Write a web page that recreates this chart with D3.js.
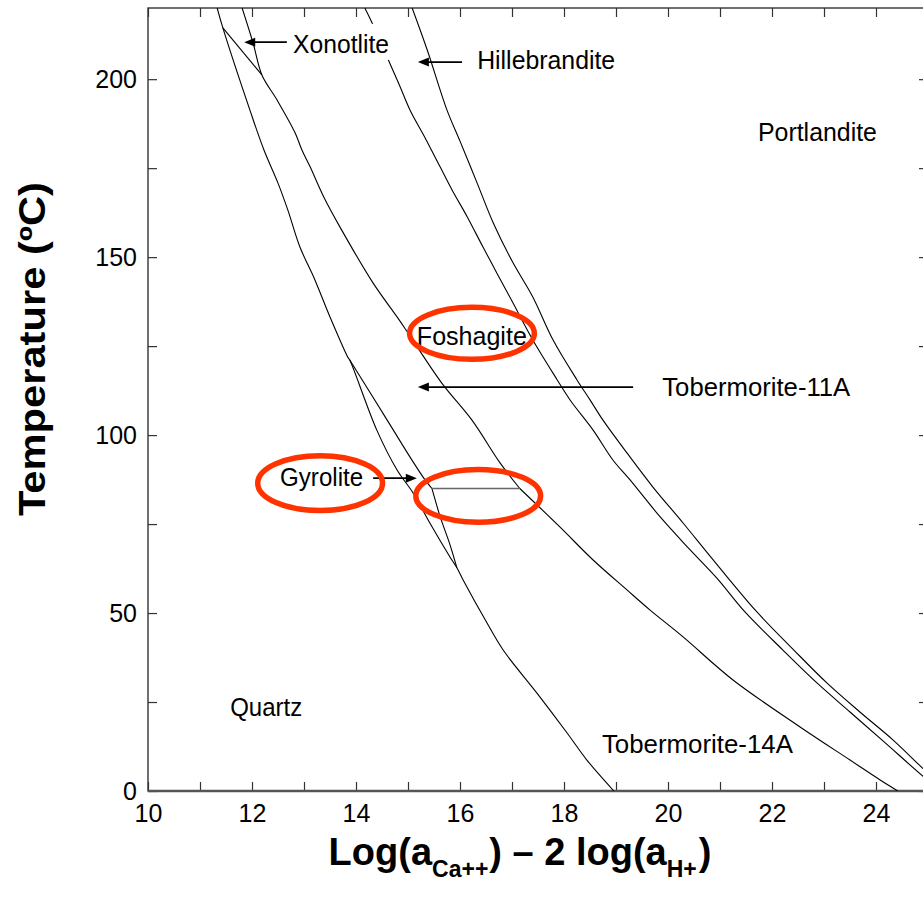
<!DOCTYPE html>
<html><head><meta charset="utf-8">
<script src="https://cdn.jsdelivr.net/npm/d3@7"></script>
<style>
body{margin:0;background:#fff;}
svg{display:block;}
text{font-family:"Liberation Sans",Arial,Helvetica,sans-serif;fill:#000;}
</style>
</head><body>
<svg id="chart" width="923" height="897"></svg>
<script>
// ---------- data (x = Log(aCa++) - 2 log(aH+), T = temperature °C) ----------
const xTickValues = d3.range(10, 26, 1);
const xTickLabels = [10, 12, 14, 16, 18, 20, 22, 24];
const yTickValues = [0, 25, 50, 75, 100, 125, 150, 175, 200];
const yTickLabels = [0, 50, 100, 150, 200];

// Quartz boundary (Quartz | Xonotlite/Tob-11A, Gyrolite, Tob-14A)
const quartzLine = [
  [11.33,220],[11.44,214.4],[11.96,191.3],[12.23,180.1],[12.50,170.8],[12.69,163.2],
  [12.92,152.9],[13.21,143.6],[13.50,133.2],[13.85,121.7],[13.88,121.1],
  [14.40,101.4],[14.79,90.2],[15.10,83.7],[15.42,75.3],[15.81,65.7],[15.94,62.7],
  [16.06,59.3],[16.52,47.2],[16.83,39.6],[17.48,27.5],[18.06,16.3],[18.44,8.7],[18.96,0]
];
// Gyrolite | Tobermorite-11A boundary (above 85 °C)
const gyroliteUpperLine = [[13.88,121.1],[14.60,104.2],[15.04,93.8],[15.29,88.2],[15.46,85.0]];
// Gyrolite | Tobermorite-14A boundary (below 85 °C)
const gyroliteLowerLine = [[15.46,85.0],[15.62,77.0],[15.81,69.1],[15.94,62.7]];
// Xonotlite short boundary
const xonotliteLine = [[11.44,214.4],[12.19,201.2]];
// Tobermorite-14A | Tobermorite-11A (85 °C)
const tob85Line = [[15.46,85.0],[17.15,85.0]];
// Tobermorite-11A | Xonotlite / Foshagite (above 85 °C)
const foshagiteUpperLine = [
  [11.81,220],[12.02,210.2],[12.19,201.2],[12.48,194.2],[12.83,184.9],[12.96,180.1],
  [13.12,175.3],[13.38,166.9],[13.69,158.5],[14.33,142.7],[14.79,133.2],[15.00,128.7],
  [15.65,114.6],[16.23,104.2],[16.77,92.2],[17.15,85.0]
];
// Tobermorite-14A | Foshagite (below 85 °C)
const foshagiteLowerLine = [
  [17.15,85.0],[17.92,74.2],[18.56,64.9],[19.21,56.5],[19.65,50.9],[20.29,43.3],
  [21.25,31.2],[22.54,18.0],[23.50,8.7],[24.08,3.1],[24.42,0]
];
// Foshagite | Hillebrandite
const hillebranditeLine = [
  [14.17,220],[14.31,215.8],[14.65,204.5],[14.85,197.8],[15.04,191.3],[15.33,183.5],
  [15.62,175.3],[15.85,168.8],[16.14,161.3],[16.44,152.9],[16.71,145.5],[17.02,137.1],
  [17.40,126.7],[17.87,115.5],[18.12,109.8],[18.56,101.4],[18.94,93.0],[19.27,87.4],
  [19.85,77.0],[20.39,68.3],[20.94,59.8],[21.48,50.3],[22.21,39.6],[22.87,30.3],
  [23.50,22.2],[24.14,14.0],[24.90,4.2],[25.0,3.1]
];
// Hillebrandite | Portlandite
const portlanditeLine = [
  [15.08,220],[15.37,208.2],[15.75,191.3],[16.00,182.6],[16.33,170.8],[16.64,159.6],
  [17.02,148.4],[17.40,138.8],[17.79,126.7],[18.25,115.5],[18.50,109.9],[18.75,104.2],
  [19.21,95.0],[19.71,85.4],[20.29,75.3],[20.73,67.4],[21.14,60.1],[21.71,50.3],
  [22.42,39.6],[23.06,30.3],[23.69,22.2],[24.33,14.3],[24.89,6.5],[25.0,5.1]
];
const boundaryLines = [quartzLine, gyroliteUpperLine, gyroliteLowerLine, xonotliteLine,
  foshagiteUpperLine, foshagiteLowerLine, hillebranditeLine, portlanditeLine];

// field labels (text, x, T)
const fieldNames = ["Xonotlite","Hillebrandite","Portlandite","Foshagite","Tobermorite-11A","Gyrolite","Quartz","Tobermorite-14A"];
const fieldX = [12.79, 16.33, 21.73, 15.17, 19.89, 12.54, 11.58, 18.73];
const fieldT = [207.4, 202.9, 182.6, 125.3, 111.0, 85.7, 21.1, 10.7];
const fieldLen = [96, 138, 119, 110, 188, 83, 72, 191];

// arrows: [x from, x to, T]
const arrows = [[12.67,11.85,210.4],[16.04,15.19,204.8],[19.33,15.19,113.5],[14.33,15.17,87.9]];
// highlight ellipses: [cx, cy(T), rx (x units), ry (T units)]
const ellipses = [[16.23,128.6,1.20,7.3],[13.31,86.5,1.20,7.7],[16.35,82.9,1.20,7.4]];

// ---------- drawing ----------
const svg = d3.select("#chart");
const x = d3.scaleLinear().domain([10, 25]).range([148, 928]);
const y = d3.scaleLinear().domain([0, 220]).range([791, 8]);
const FONT = '"Liberation Sans", Arial, Helvetica, sans-serif';

svg.append("defs").append("clipPath").attr("id","plotclip")
  .append("rect").attr("x", x(10)).attr("y", y(220)).attr("width", x(25)-x(10)).attr("height", y(0)-y(220));

// axes
const gx = svg.append("g").attr("transform", `translate(0,${y(0)})`)
  .call(d3.axisBottom(x).tickValues(xTickValues).tickSizeInner(-9).tickSizeOuter(0).tickPadding(13)
    .tickFormat(d => xTickLabels.includes(d) ? d : ""));
const gt = svg.append("g").attr("transform", `translate(0,${y(220)})`)
  .call(d3.axisTop(x).tickValues(xTickValues).tickSizeInner(-9).tickSizeOuter(0).tickFormat(""));
const gy = svg.append("g").attr("transform", `translate(${x(10)},0)`)
  .call(d3.axisLeft(y).tickValues(yTickValues).tickSizeInner(-9).tickSizeOuter(0).tickPadding(11)
    .tickFormat(d => yTickLabels.includes(d) ? d : ""));
const gr = svg.append("g").attr("transform", `translate(${x(25)},0)`)
  .call(d3.axisRight(y).tickValues(yTickValues).tickSizeInner(-9).tickSizeOuter(0).tickFormat(""));
[gx, gt, gy, gr].forEach(g => {
  g.select(".domain").remove();
  g.attr("font-family", FONT).attr("font-size", 25);
  g.selectAll(".tick line").attr("stroke", "#333").attr("stroke-width", 1.2);
  g.selectAll(".tick text").attr("fill", "#000");
});

// frame
svg.append("rect").attr("x", x(10)).attr("y", y(220)).attr("width", x(25)-x(10)).attr("height", y(0)-y(220))
  .attr("fill","none").attr("stroke","#333").attr("stroke-width",1.4);
svg.append("line").attr("x1", x(10)).attr("x2", x(25)).attr("y1", y(0)).attr("y2", y(0))
  .attr("stroke","#555").attr("stroke-width",2.6);

// boundary curves
const line = d3.line().x(d => x(d[0])).y(d => y(d[1])).curve(d3.curveCatmullRom.alpha(0.5));
const curves = svg.append("g").attr("clip-path","url(#plotclip)");
curves.selectAll("path.b").data(boundaryLines).join("path").attr("class","b")
  .attr("d", line).attr("fill","none").attr("stroke","#000").attr("stroke-width",1.1).attr("stroke-linejoin","round");
curves.append("path").attr("d", d3.line().x(d => x(d[0])).y(d => y(d[1]))(tob85Line))
  .attr("fill","none").attr("stroke","#666").attr("stroke-width",1.6);

// labels
const lab = svg.append("g");
fieldNames.forEach((name, i) => {
  const g = lab.append("g");
  const t = g.append("text").attr("x", x(fieldX[i])).attr("y", y(fieldT[i]))
    .attr("font-size", 25).attr("textLength", fieldLen[i]).attr("lengthAdjust","spacingAndGlyphs").text(name);
  if (name === "Xonotlite") {
    const bb = t.node().getBBox();
    g.insert("rect","text").attr("x", bb.x-4).attr("y", bb.y-6).attr("width", bb.width+8).attr("height", bb.height+8).attr("fill","#fff");
  }
});

// arrows
arrows.forEach(a => {
  const x1 = x(a[0]), x2 = x(a[1]), yy = y(a[2]);
  const dir = Math.sign(x2 - x1);
  svg.append("line").attr("x1", x1).attr("x2", x2 - dir*8).attr("y1", yy).attr("y2", yy)
    .attr("stroke","#000").attr("stroke-width",1.8);
  svg.append("path").attr("d", `M${x2},${yy} L${x2-dir*11},${yy-4.5} L${x2-dir*11},${yy+4.5} Z`).attr("fill","#000");
});

// red ellipses
svg.selectAll("ellipse.hl").data(ellipses).join("ellipse").attr("class","hl")
  .attr("cx", d => x(d[0])).attr("cy", d => y(d[1]))
  .attr("rx", d => x(10 + d[2]) - x(10)).attr("ry", d => y(0) - y(d[3]))
  .attr("fill","none").attr("stroke","#ff3300").attr("stroke-width",5.5);

// axis titles
svg.append("text").attr("transform","translate(45,349) rotate(-90)").attr("text-anchor","middle")
  .attr("font-weight","bold").attr("font-size",36).attr("textLength",334).attr("lengthAdjust","spacingAndGlyphs")
  .text("Temperature (ºC)");
const xt = svg.append("text").attr("x", 520).attr("y", 865).attr("text-anchor","middle")
  .attr("font-weight","bold").attr("font-size",38);
xt.append("tspan").text("Log(a");
xt.append("tspan").attr("font-size",23).attr("dy",12).text("Ca++");
xt.append("tspan").attr("dy",-12).attr("dx",1).text(") \u2013 2 log(a");
xt.append("tspan").attr("font-size",23).attr("dy",12).text("H+");
xt.append("tspan").attr("dy",-12).attr("dx",2).text(")");
</script>
</body></html>
